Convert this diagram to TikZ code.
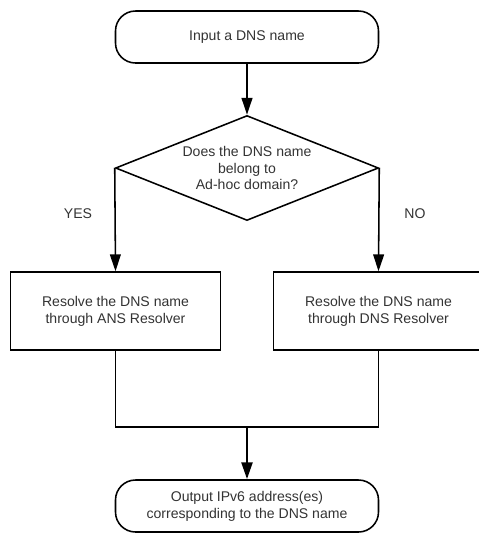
\documentclass[tikz,border=0pt]{standalone}
\usepackage{fontspec}
\setmainfont{Liberation Sans}
\usetikzlibrary{shapes.geometric,arrows.meta}
\begin{document}
\begin{tikzpicture}[line width=1.1pt, font=\fontsize{10}{12}\selectfont,
        term/.style = {draw, rectangle, rounded corners=0.5cm, minimum width=6.575cm, minimum height=1.3cm, align=center, text=black!80},
        decision/.style = {draw, diamond, minimum width=6.575cm, minimum height=2.625cm, shape aspect=2.5, inner sep=0pt, align=center, text=black!80},
        proc/.style = {draw, rectangle, minimum width=5.25cm, minimum height=1.95cm, align=center, text=black!80},
        flow/.style = {-{Triangle[width=0.27cm,length=0.42cm]}}]
    \useasboundingbox (0,0) rectangle (11.975,-13.325);
    \node [term] (input) at (6.175,-0.925) {Input a DNS name};
    \node [decision] (adhoc) at (6.175,-4.2) {Does the DNS name\\belong to\\Ad-hoc domain?};
    \node [proc] (ans) at (2.8875,-7.775) {Resolve the DNS name\\through ANS Resolver};
    \node [proc] (dns) at (9.4625,-7.775) {Resolve the DNS name\\through DNS Resolver};
    \node [term] (output) at (6.175,-12.65) {Output IPv6 address(es)\\corresponding to the DNS name};
    \node [text=black!80] (yes) at (1.95,-5.35) {YES};
    \node [text=black!80] (no) at (10.375,-5.35) {NO};
    \coordinate (merge) at (6.175,-10.675);
    \draw [flow] (input) -- (adhoc);
    \draw [flow] (adhoc.west) -- (ans.north);
    \draw [flow] (adhoc.east) -- (dns.north);
    \draw (ans.south) |- (merge);
    \draw (dns.south) |- (merge);
    \draw [flow, line width=1.9pt] (merge) -- (output);
\end{tikzpicture}
\end{document}
